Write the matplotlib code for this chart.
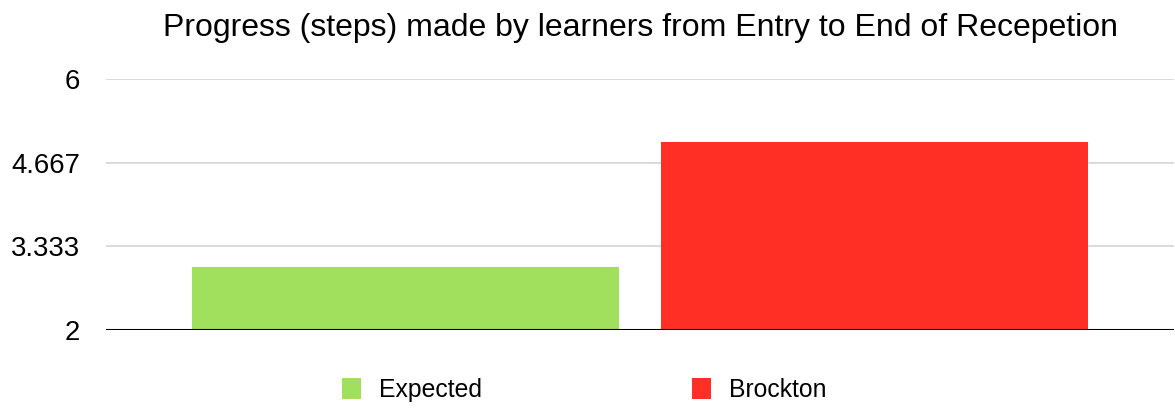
import matplotlib.pyplot as plt
from matplotlib.patches import Patch

plt.rcParams['font.family'] = ['Liberation Sans', 'DejaVu Sans']

series = ["Expected", "Brockton"]
values = [3.0, 5.0]
colors = ["#A1E05C", "#FF2F26"]
yticks = [2, 3.333, 4.667, 6]
ytick_labels = ["2", "3.333", "4.667", "6"]
title = "Progress (steps) made by learners from Entry to End of Recepetion"

fig = plt.figure(figsize=(11.75, 4.08), dpi=100)
ax = fig.add_axes([0.0906, 0.191, 0.9085, 0.615])

base = 2
for i, (name, v, c) in enumerate(zip(series, values, colors)):
    ax.bar(i, v - base, bottom=base, width=0.91, color=c, label=name, zorder=2)

ax.set_ylim(2, 6)
ax.set_xlim(-0.6375, 1.6386)
ax.set_yticks(yticks)
ax.set_yticklabels(ytick_labels, fontsize=19.8)
ax.tick_params(axis='y', length=0, pad=19)
ax.set_xticks([])
ax.yaxis.grid(True, color="#d4d4d4", linewidth=1.2, zorder=0)
for s in ["top", "right", "left", "bottom"]:
    ax.spines[s].set_visible(False)
ax.axhline(2, color="black", linewidth=2.2, zorder=3)

fig.text(0.5447, 0.931, title, ha="center", va="center", fontsize=23)

handles = [Patch(facecolor=c, label=n) for n, c in zip(series, colors)]
fig.legend(handles=handles, loc="center", bbox_to_anchor=(0.4975, 0.044), ncol=2,
           frameon=False, fontsize=17.8, handlelength=0.75, handleheight=0.95,
           handletextpad=0.75, columnspacing=8.5)

fig.savefig("out.png", dpi=100)
